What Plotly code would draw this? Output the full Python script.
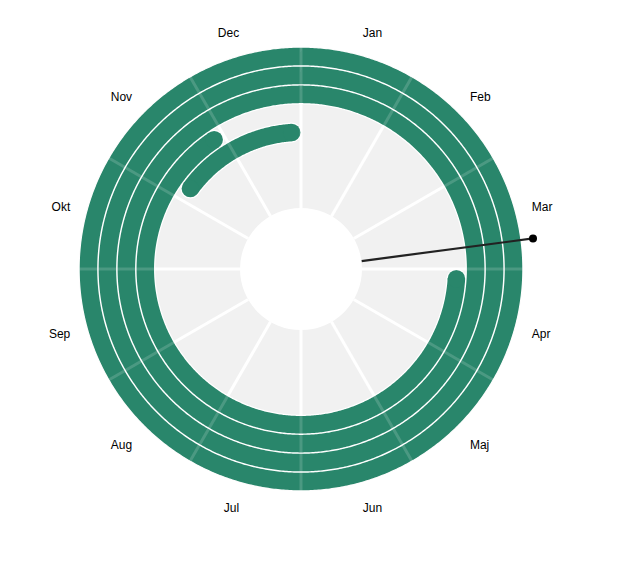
import numpy as np
import plotly.graph_objects as go

# ---- data ----
months = ["Jan", "Feb", "Mar", "Apr", "Maj", "Jun", "Jul", "Aug", "Sep", "Okt", "Nov", "Dec"]
lap_names = ["Varv 1", "Varv 2", "Varv 3", "Varv 4", "Varv 5"]
lap_level = [4, 5, 6, 7, 8]                  # radial level of each lap
lap_start_month = [10.2, 3.12, 0.0, 0.0, 0.0]  # position in months (0 = 1 Jan)
lap_end_month = [11.87, 10.87, 12.0, 12.0, 12.0]
hand_month = 2.75

GREEN = "#29866b"
BG = "#f1f1f1"
DEG_PER_MONTH = 30.0
LINE_W = 17.5
BORDER_W = 20


def arc(level, m0, m1):
    deg0, deg1 = m0 * DEG_PER_MONTH, m1 * DEG_PER_MONTH
    n = max(2, int(abs(deg1 - deg0) * 2) + 1)
    th = np.linspace(deg0, deg1, n)
    return [level] * n, th


def cap_sizes(n, size, full):
    s = [0] * n
    if not full:
        s[0] = size
        s[-1] = size
    return s


fig = go.Figure()

# white borders under the arcs
for name, lv, s, e in zip(lap_names, lap_level, lap_start_month, lap_end_month):
    r, th = arc(lv, s, e)
    full = (e - s) >= 12
    fig.add_trace(go.Scatterpolar(r=r, theta=th, mode="lines+markers", subplot="polar",
                                  line=dict(color="white", width=BORDER_W),
                                  marker=dict(size=cap_sizes(len(r), BORDER_W, full), color="white",
                                              opacity=1, line=dict(width=0)),
                                  hoverinfo="skip", showlegend=False))
# green arcs (with round ends)
for name, lv, s, e in zip(lap_names, lap_level, lap_start_month, lap_end_month):
    r, th = arc(lv, s, e)
    full = (e - s) >= 12
    fig.add_trace(go.Scatterpolar(r=r, theta=th, mode="lines+markers", subplot="polar", name=name,
                                  line=dict(color=GREEN, width=LINE_W),
                                  marker=dict(size=cap_sizes(len(r), LINE_W, full), color=GREEN,
                                              opacity=1, line=dict(width=0)),
                                  showlegend=False))

# clock hand (on the label subplot, from the hole edge to just beyond the rings)
fig.add_trace(go.Scatterpolar(r=[0, 1], theta=[hand_month * DEG_PER_MONTH] * 2,
                              mode="lines+markers", subplot="polar3", cliponaxis=False,
                              line=dict(color="#222222", width=2.2),
                              marker=dict(size=[0, 8], color="#000000", opacity=1,
                                          line=dict(width=0)),
                              showlegend=False))

# dummy trace so the overlay grid subplot exists
fig.add_trace(go.Scatterpolar(r=[None], theta=[None], subplot="polar2", mode="lines",
                              showlegend=False, hoverinfo="skip"))

grid_ticks = [i * 30 for i in range(12)]
label_ticks = [15 + i * 30 for i in range(12)]

# plot area 480x480 (page body adds an 8px offset)
HALF = 240.0
R_MAIN = 222.0
R_HAND = 234.0
R_HOLE = 61.0
dom_main = [0.5 - R_MAIN / (2 * HALF), 0.5 + R_MAIN / (2 * HALF)]
dom_hand = [0.5 - R_HAND / (2 * HALF), 0.5 + R_HAND / (2 * HALF)]

fig.update_layout(
    width=622, height=562,
    margin=dict(l=53, r=89, t=21, b=61, autoexpand=False),
    paper_bgcolor="white",
    font=dict(family="Arial, Liberation Sans, sans-serif", size=12, color="#000000"),
    showlegend=False,
    polar=dict(
        domain=dict(x=dom_main, y=dom_main), bgcolor=BG, hole=R_HOLE / R_MAIN,
        radialaxis=dict(visible=False, range=[0, 8.5]),
        angularaxis=dict(type="linear", thetaunit="degrees", rotation=90, direction="clockwise",
                         tickvals=grid_ticks, showticklabels=False, ticks="",
                         showgrid=True, gridcolor="white", gridwidth=2.5, showline=False),
    ),
    polar2=dict(
        domain=dict(x=dom_main, y=dom_main), bgcolor="rgba(0,0,0,0)", hole=R_HOLE / R_MAIN,
        radialaxis=dict(visible=False, range=[0, 8.5]),
        angularaxis=dict(type="linear", thetaunit="degrees", rotation=90, direction="clockwise",
                         tickvals=grid_ticks, showticklabels=False, ticks="",
                         showgrid=True, gridcolor="rgba(255,255,255,0.16)", gridwidth=2.5,
                         showline=False),
    ),
    polar3=dict(
        domain=dict(x=dom_hand, y=dom_hand), bgcolor="rgba(0,0,0,0)", hole=R_HOLE / R_HAND,
        radialaxis=dict(visible=False, range=[0, 1]),
        angularaxis=dict(type="linear", thetaunit="degrees", rotation=90, direction="clockwise",
                         tickvals=label_ticks, ticktext=months,
                         ticks="outside", ticklen=2, tickcolor="rgba(0,0,0,0)",
                         showgrid=False, showline=False,
                         tickfont=dict(size=12, color="#000000")),
    ),
)

fig.write_html("out.html")
